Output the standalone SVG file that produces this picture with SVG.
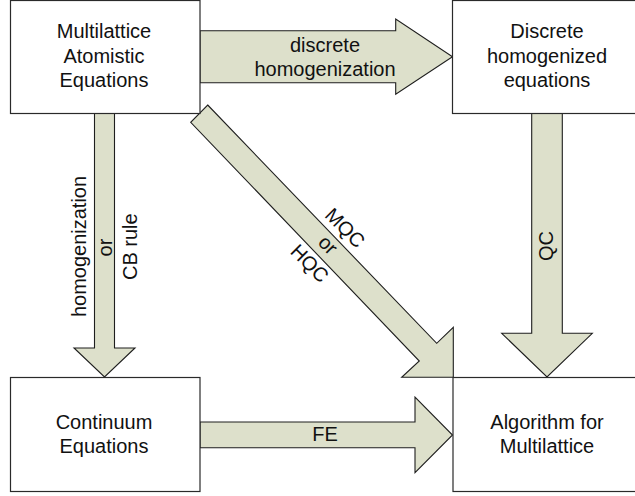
<svg xmlns="http://www.w3.org/2000/svg" width="635" height="496" viewBox="0 0 635 496">
<style>
.bg{fill:#ffffff}
.box{fill:#ffffff;stroke:#2a2a2a;stroke-width:1.2}
.arr{fill:#dde0cb;stroke:#1e1e1e;stroke-width:1.1;stroke-linejoin:miter}
.t{font-family:"Liberation Sans",Arial,sans-serif;font-size:20px;fill:#111;text-anchor:middle}
</style>
<rect class="bg" x="0" y="0" width="635" height="496"/>
<g id="connectors">
  <polygon id="arr-discrete" class="arr" points="200,30.7 395.7,30.7 395.7,19 452.5,56.7 395.7,94.3 395.7,82.8 200,82.8"/>
  <polygon id="arr-homog" class="arr" points="94.5,113.5 114.5,113.5 114.5,348 135,348 104.5,377 74,348 94.5,348"/>
  <polygon id="arr-qc" class="arr" points="531.7,113.5 562.3,113.5 562.3,333.3 592.3,333.3 547,377 501.7,333.3 531.7,333.3"/>
  <polygon id="arr-fe" class="arr" points="200,422 415,422 415,397 452.5,435 415,472.7 415,447.7 200,447.7"/>
  <polygon id="arr-mqc" class="arr" points="207.7,105 436.7,343.3 453.3,327.3 453.3,377.3 401.7,377.3 419.3,361 190.7,122.3"/>
  <text class="t" x="325" y="52">discrete</text>
  <text class="t" x="325" y="76">homogenization</text>
  <text class="t" x="325" y="441">FE</text>
  <text class="t" transform="translate(0,246.5) rotate(-90)" x="0" y="86">homogenization</text>
  <text class="t" transform="translate(0,247.5) rotate(-90)" x="0" y="112">or</text>
  <text class="t" transform="translate(0,246.7) rotate(-90)" x="0" y="136.5">CB rule</text>
  <text class="t" transform="translate(0,246) rotate(-90)" x="0" y="553.3">QC</text>
  <g transform="translate(327.5,245.5) rotate(45)">
    <text class="t" x="0" y="-18">MQC</text>
    <text class="t" x="0" y="6">or</text>
    <text class="t" x="0" y="32">HQC</text>
  </g>
</g>
<g id="node-atomistic">
  <rect class="box" x="10.5" y="0.5" width="189.5" height="113"/>
  <text class="t" x="104" y="38.3">Multilattice</text>
  <text class="t" x="104" y="62.5">Atomistic</text>
  <text class="t" x="104" y="86.5">Equations</text>
</g>
<g id="node-discrete">
  <rect class="box" x="452.5" y="0.5" width="190" height="113"/>
  <text class="t" x="547" y="38">Discrete</text>
  <text class="t" x="547" y="62.5">homogenized</text>
  <text class="t" x="547" y="87">equations</text>
</g>
<g id="node-continuum">
  <rect class="box" x="10.5" y="377.5" width="189.5" height="114"/>
  <text class="t" x="104" y="428.7">Continuum</text>
  <text class="t" x="104" y="452.7">Equations</text>
</g>
<g id="node-algorithm">
  <rect class="box" x="453" y="377.5" width="190" height="114"/>
  <text class="t" x="547" y="428.7">Algorithm for</text>
  <text class="t" x="547" y="452.7">Multilattice</text>
</g>
</svg>
